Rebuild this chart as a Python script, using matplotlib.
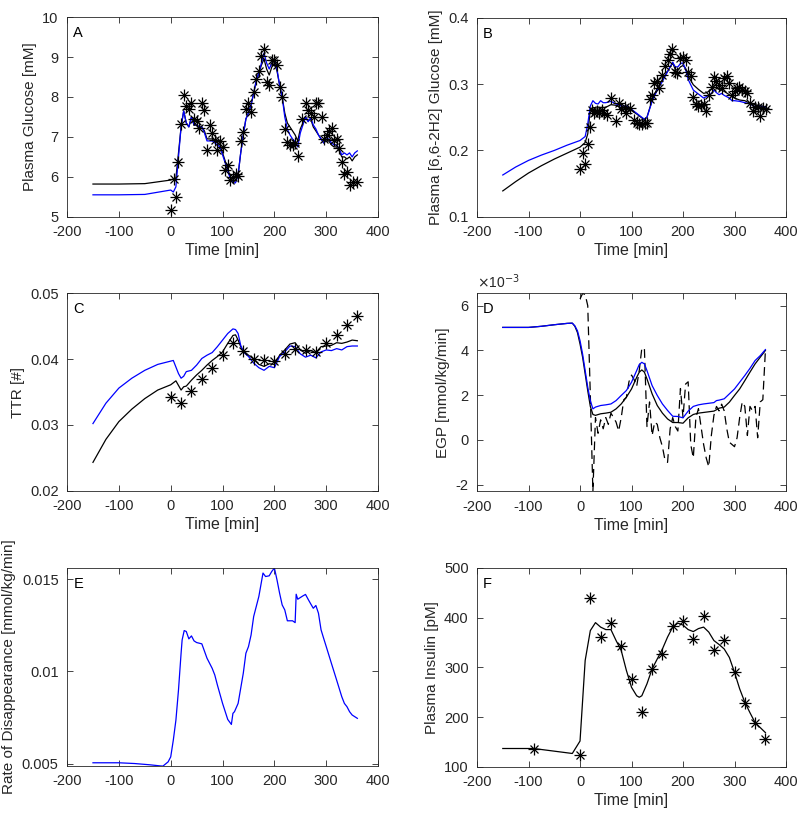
import numpy as np
import matplotlib
matplotlib.use("Agg")
import matplotlib.pyplot as plt
from matplotlib.ticker import FuncFormatter

plt.rcParams['font.family'] = ['Liberation Sans', 'DejaVu Sans']

# ---- panel A: plasma glucose
tA_obs = [0, 6, 10, 15, 20, 25, 30, 35, 40, 45, 50, 55, 60, 65, 70, 75, 80, 85, 90, 95,
          100, 105, 110, 115, 120, 125, 130, 135, 140, 145, 150, 155, 160, 165, 170, 175,
          180, 185, 190, 195, 200, 205, 210, 215, 220, 225, 230, 235, 240, 245, 254, 260,
          265, 270, 276, 281, 285, 291, 296, 301, 306, 311, 315, 320, 325, 330, 335, 341,
          345, 351, 359]
gluc_obs = [5.16, 5.95, 5.5, 6.38, 7.33, 8.06, 7.78, 7.69, 7.84, 7.46, 7.41, 7.22, 7.84, 7.68,
            6.68, 7.29, 7.10, 6.93, 6.68, 6.91, 6.75, 6.17, 6.30, 5.92, 6.0, 6.07, 6.02, 6.89,
            7.13, 7.69, 7.84, 7.63, 8.13, 8.45, 8.66, 9.02, 9.21, 8.37, 8.30, 8.92, 8.92, 8.79,
            8.24, 8.01, 7.20, 6.88, 6.81, 6.81, 6.85, 6.51, 7.46, 7.84, 7.68, 7.61, 7.51, 7.84,
            7.84, 7.51, 6.95, 7.06, 7.14, 7.23, 6.93, 6.95, 6.72, 6.38, 6.07, 6.11, 5.79, 5.88,
            5.88]
tA_mod = [-150, -100, -50, 0, 5, 10, 15, 20, 25, 30, 35, 40, 45, 50, 55, 60, 65, 70, 75, 80,
          85, 90, 95, 100, 105, 110, 115, 120, 125, 130, 135, 140, 145, 150, 155, 160, 165,
          170, 175, 180, 185, 190, 195, 200, 205, 210, 215, 220, 225, 230, 235, 240, 245, 250,
          255, 260, 265, 270, 275, 280, 285, 290, 295, 300, 305, 310, 315, 320, 325, 330, 335,
          340, 345, 350, 355, 360]
gluc_blue = [5.55, 5.55, 5.56, 5.67, 5.62, 5.75, 6.5, 7.25, 7.65, 7.35, 7.25, 7.5, 7.3, 7.3,
             7.25, 7.25, 7.1, 6.9, 6.9, 6.9, 6.85, 6.8, 6.75, 6.55, 6.35, 6.15, 5.95, 5.85,
             5.85, 6.05, 6.6, 7.05, 7.45, 7.6, 7.8, 8.1, 8.4, 8.6, 8.85, 9.1, 8.85, 8.7, 8.85,
             8.95, 8.7, 8.3, 8.0, 7.5, 7.2, 7.05, 6.95, 6.88, 6.75, 7.1, 7.3, 7.5, 7.38, 7.48,
             7.3, 7.2, 7.05, 6.95, 6.85, 6.95, 6.95, 6.85, 6.8, 6.8, 6.7, 6.55, 6.6, 6.55, 6.6,
             6.5, 6.6, 6.65]
gluc_black = [5.82, 5.82, 5.83, 5.92, 5.95, 5.97, 6.6, 7.25, 7.65, 7.35, 7.25, 7.5, 7.3, 7.3,
              7.25, 7.25, 7.15, 6.95, 6.95, 6.95, 6.9, 6.85, 6.8, 6.6, 6.4, 6.2, 6.0, 5.88,
              5.9, 6.05, 6.6, 7.05, 7.45, 7.6, 7.8, 8.1, 8.4, 8.6, 8.8, 8.95, 8.7, 8.55, 8.75,
              8.85, 8.65, 8.3, 8.0, 7.6, 7.35, 7.25, 7.15, 7.05, 6.9, 7.2, 7.35, 7.5, 7.4, 7.45,
              7.25, 7.15, 7.05, 6.95, 6.85, 6.9, 6.9, 6.8, 6.75, 6.75, 6.65, 6.5, 6.5, 6.45,
              6.5, 6.4, 6.5, 6.55]

# ---- panel B: labelled glucose
tB_obs = [0, 5, 10, 15, 20, 24, 27, 32, 37, 42, 47, 53, 60, 70, 75, 80, 87, 90, 97, 104, 110,
          115, 120, 126, 130, 135, 139, 144, 149, 154, 160, 165, 170, 175, 179, 185, 189, 195,
          200, 205, 210, 215, 220, 225, 230, 235, 240, 245, 250, 256, 260, 265, 270, 275, 280,
          285, 290, 295, 300, 304, 309, 315, 320, 324, 330, 335, 340, 345, 350, 355, 361]
lab_obs = [0.172, 0.196, 0.180, 0.209, 0.236, 0.261, 0.257, 0.259, 0.257, 0.261, 0.257, 0.254,
           0.279, 0.244, 0.272, 0.262, 0.266, 0.256, 0.264, 0.246, 0.242, 0.240, 0.240, 0.241,
           0.241, 0.277, 0.284, 0.302, 0.304, 0.294, 0.314, 0.327, 0.336, 0.346, 0.353, 0.318,
           0.317, 0.339, 0.341, 0.337, 0.319, 0.312, 0.281, 0.270, 0.267, 0.268, 0.270, 0.260,
           0.284, 0.295, 0.311, 0.304, 0.299, 0.294, 0.309, 0.312, 0.302, 0.284, 0.289, 0.294,
           0.296, 0.291, 0.289, 0.287, 0.271, 0.260, 0.266, 0.265, 0.252, 0.264, 0.262]
tB_mod = [-150, -125, -100, -75, -50, -25, 0, 10, 15, 20, 25, 30, 35, 40, 45, 50, 60, 70, 80,
          90, 100, 110, 120, 125, 130, 140, 150, 160, 170, 180, 185, 190, 195, 200, 205, 210,
          220, 230, 240, 245, 250, 255, 260, 265, 270, 275, 280, 290, 295, 300, 310, 320, 330,
          340, 350, 360]
lab_blue = [0.163, 0.175, 0.185, 0.193, 0.200, 0.208, 0.215, 0.221, 0.240, 0.267, 0.275, 0.271,
            0.270, 0.275, 0.272, 0.272, 0.274, 0.270, 0.267, 0.267, 0.262, 0.256, 0.250, 0.247,
            0.250, 0.274, 0.291, 0.304, 0.319, 0.333, 0.326, 0.326, 0.331, 0.332, 0.322, 0.307,
            0.291, 0.285, 0.279, 0.281, 0.283, 0.286, 0.291, 0.287, 0.284, 0.286, 0.283, 0.279,
            0.275, 0.275, 0.274, 0.272, 0.270, 0.266, 0.267, 0.265]
lab_black = [0.139, 0.153, 0.166, 0.177, 0.187, 0.196, 0.205, 0.212, 0.225, 0.262, 0.265,
             0.264, 0.264, 0.265, 0.265, 0.265, 0.269, 0.268, 0.264, 0.264, 0.260, 0.255, 0.249,
             0.247, 0.250, 0.276, 0.294, 0.307, 0.319, 0.332, 0.322, 0.321, 0.326, 0.328, 0.324,
             0.312, 0.299, 0.292, 0.286, 0.287, 0.289, 0.292, 0.296, 0.294, 0.292, 0.291, 0.289,
             0.284, 0.281, 0.279, 0.276, 0.275, 0.271, 0.269, 0.267, 0.266]

# ---- panel C: TTR
tC_obs = [0, 20, 40, 60, 80, 100, 120, 140, 160, 180, 200, 220, 240, 260, 280, 300, 320, 340, 360]
ttr_obs = [0.0342, 0.0334, 0.0352, 0.0370, 0.0387, 0.0406, 0.0424, 0.0412, 0.0400, 0.0398,
           0.0397, 0.0408, 0.0416, 0.0414, 0.0411, 0.0424, 0.0436, 0.0452, 0.0466]
tC_mod = [-150, -125, -100, -75, -50, -25, 0, 5, 10, 15, 20, 25, 30, 40, 50, 60, 70, 80, 90,
          100, 110, 120, 125, 130, 135, 140, 150, 160, 170, 180, 190, 200, 210, 220, 230, 240,
          250, 260, 270, 280, 290, 300, 310, 320, 330, 340, 350, 360]
ttr_blue = [0.0302, 0.0333, 0.0356, 0.0371, 0.0383, 0.0392, 0.0397, 0.0398, 0.0388, 0.0378,
            0.0371, 0.0374, 0.0381, 0.0383, 0.0391, 0.0401, 0.0406, 0.0410, 0.0419, 0.0429,
            0.0439, 0.0446, 0.0445, 0.0439, 0.0421, 0.0411, 0.0404, 0.0394, 0.0387, 0.0383,
            0.0389, 0.0387, 0.0404, 0.0411, 0.0420, 0.0419, 0.0408, 0.0403, 0.0406, 0.0402,
            0.0411, 0.0414, 0.0413, 0.0416, 0.0414, 0.0419, 0.0420, 0.0420]
ttr_black = [0.0243, 0.0278, 0.0305, 0.0324, 0.0340, 0.0353, 0.0361, 0.0364, 0.0367, 0.0360,
             0.0353, 0.0358, 0.0359, 0.0368, 0.0376, 0.0383, 0.0391, 0.0398, 0.0404, 0.0411,
             0.0424, 0.0436, 0.0437, 0.0429, 0.0419, 0.0413, 0.0406, 0.0400, 0.0392, 0.0389,
             0.0393, 0.0392, 0.0406, 0.0414, 0.0423, 0.0425, 0.0414, 0.0409, 0.0413, 0.0410,
             0.0419, 0.0420, 0.0421, 0.0425, 0.0424, 0.0426, 0.0429, 0.0428]

# ---- panel D: EGP
tD_mod = [-150, -100, -75, -50, -25, -15, -10, -5, 0, 5, 10, 15, 20, 25, 30, 40, 50, 60, 70,
          80, 90, 100, 110, 115, 120, 125, 130, 140, 150, 160, 170, 180, 190, 200, 210, 220,
          230, 240, 250, 260, 265, 270, 280, 290, 300, 310, 320, 330, 340, 350, 360]
egp_blue = [5.03, 5.03, 5.08, 5.15, 5.21, 5.22, 5.10, 4.88, 4.44, 3.84, 3.10, 2.36, 1.76, 1.39,
            1.47, 1.54, 1.57, 1.61, 1.76, 1.99, 2.21, 2.58, 3.10, 3.37, 3.47, 3.40, 3.10, 2.43,
            1.99, 1.61, 1.32, 1.06, 1.05, 0.99, 1.29, 1.50, 1.57, 1.61, 1.64, 1.67, 1.76, 1.78,
            1.84, 2.06, 2.28, 2.58, 2.88, 3.20, 3.55, 3.77, 4.04]
egp_black = [5.03, 5.03, 5.08, 5.15, 5.21, 5.22, 5.08, 4.80, 4.29, 3.70, 2.95, 2.20, 1.50,
             1.14, 1.10, 1.17, 1.20, 1.24, 1.39, 1.61, 1.91, 2.28, 2.80, 3.03, 3.13, 3.03, 2.73,
             2.06, 1.54, 1.20, 0.94, 0.78, 0.78, 0.75, 0.99, 1.14, 1.20, 1.23, 1.26, 1.29,
             1.35, 1.42, 1.47, 1.69, 1.99, 2.28, 2.65, 3.03, 3.40, 3.70, 4.00]
tD_dash = [0, 5, 10, 15, 20, 25, 30, 35, 40, 45, 50, 55, 60, 65, 70, 75, 80, 85, 90, 95, 100,
           105, 110, 115, 120, 125, 130, 135, 140, 145, 150, 155, 160, 165, 170, 175, 180, 185,
           190, 195, 200, 205, 210, 215, 220, 225, 230, 235, 240, 245, 250, 255, 260, 265, 270,
           275, 280, 285, 290, 295, 300, 305, 310, 315, 320, 325, 330, 335, 340, 345, 350, 355,
           360]
egp_dash = [6.30, 6.55, 6.50, 6.00, 2.00, -2.30, 1.00, 0.30, 0.90, 0.50, 1.00, 0.70, 1.20,
            1.00, 0.80, 0.40, 1.00, 1.80, 1.90, 2.60, 2.90, 2.70, 2.40, 3.10, 4.10, 4.10, 0.60,
            1.70, 0.20, 0.80, 0.70, 0.10, -0.30, -0.90, -1.00, 0.50, 1.00, 0.60, 0.40, 2.30,
            1.00, 2.50, 2.60, -0.20, -0.80, 1.00, 1.40, 0.60, -0.20, -0.80, -1.20, 0.20, 1.10,
            1.50, 1.30, 1.60, 1.30, 0.50, -0.10, -0.20, -0.30, 0.10, 1.00, 1.70, 1.50, 0.20,
            1.50, 1.30, 1.50, 0.10, 1.70, 1.80, 4.00]

# ---- panel E: rate of disappearance
tE = [-150, -100, -70, -40, -20, -15, -5, 0, 5, 10, 15, 20, 22, 26, 30, 35, 40, 45, 50, 60, 70,
      80, 85, 90, 100, 110, 117, 120, 123, 130, 140, 145, 150, 155, 160, 170, 178, 183, 190,
      195, 200, 205, 210, 215, 220, 225, 235, 240, 242, 245, 255, 260, 265, 270, 275, 280,
      285, 290, 295, 300, 310, 320, 330, 335, 340, 345, 350, 355, 360]
rd = [0.00504, 0.00504, 0.00500, 0.00493, 0.00487, 0.00486, 0.00509, 0.00536, 0.00627, 0.00735,
      0.00899, 0.01098, 0.01170, 0.01221, 0.01216, 0.01176, 0.01192, 0.01165, 0.01156, 0.01149,
      0.01071, 0.01016, 0.00980, 0.00926, 0.00826, 0.00739, 0.00712, 0.00772, 0.00781, 0.00826,
      0.00990, 0.01098, 0.01134, 0.01197, 0.01297, 0.01406, 0.01533, 0.01514, 0.01518, 0.01542,
      0.01560, 0.01496, 0.01424, 0.01360, 0.01333, 0.01274, 0.01274, 0.01264, 0.01418, 0.01391,
      0.01409, 0.01417, 0.01391, 0.01366, 0.01342, 0.01357, 0.01315, 0.01225, 0.01179, 0.01134,
      0.01043, 0.00953, 0.00862, 0.00826, 0.00808, 0.00781, 0.00763, 0.00754, 0.00745]

# ---- panel F: insulin
tF_obs = [-90, 0, 20, 40, 60, 80, 100, 120, 140, 160, 180, 200, 220, 240, 260, 280, 300, 320, 340, 360]
ins_obs = [137, 123, 440, 361, 389, 343, 276, 211, 296, 327, 383, 393, 358, 403, 335, 356, 290,
           228, 189, 156]
tF_mod = [-150, -90, -15, 0, 10, 20, 30, 40, 50, 60, 70, 80, 90, 100, 110, 115, 120, 130, 140,
          150, 160, 170, 180, 190, 200, 210, 220, 230, 240, 250, 260, 270, 280, 290, 300, 310,
          320, 330, 340, 350, 360]
ins_mod = [137, 137, 127, 152, 314, 374, 390, 381, 376, 376, 354, 334, 294, 260, 243, 240, 243,
           267, 297, 317, 337, 361, 381, 389, 385, 376, 372, 378, 381, 371, 354, 346, 337, 320,
           290, 257, 230, 209, 189, 179, 169]

AX_COL = '#262626'
TICK_FS = 10.5
LAB_FS = 11


def style(ax, letter, ylabel, xlabel=True):
    ax.set_xlim(-200, 400)
    ax.set_xticks([-200, -100, 0, 100, 200, 300, 400])
    ax.tick_params(direction='in', top=True, right=True, length=4, width=0.6,
                   color=AX_COL, labelcolor=AX_COL, labelsize=TICK_FS)
    ax.tick_params(axis='x', pad=6)
    ax.tick_params(axis='y', pad=6)
    for s in ax.spines.values():
        s.set_color(AX_COL)
        s.set_linewidth(0.6)
    ax.xaxis.set_major_formatter(FuncFormatter(lambda v, p: f"{v:g}"))
    ax.set_ylabel(ylabel, fontsize=LAB_FS, color=AX_COL, labelpad=4)
    if xlabel:
        ax.set_xlabel("Time [min]", fontsize=LAB_FS + 0.5, color=AX_COL, labelpad=3)
    ax.text(0.02, 0.955, letter, transform=ax.transAxes, fontsize=10.5, va='top', ha='left',
            color='black')


def stars(ax, x, y):
    ax.plot(x, y, ls='none', marker='+', ms=8, mew=0.9, color='black')
    ax.plot(x, y, ls='none', marker='x', ms=5.6, mew=0.9, color='black')


fig = plt.figure(figsize=(8, 8.15), dpi=100)
axA = fig.add_axes([0.0838, 0.734, 0.3888, 0.245])
axB = fig.add_axes([0.5963, 0.734, 0.3862, 0.2442])
axC = fig.add_axes([0.0838, 0.398, 0.3888, 0.242])
axD = fig.add_axes([0.5963, 0.397, 0.3862, 0.243])
axE = fig.add_axes([0.0838, 0.060, 0.3888, 0.243])
axF = fig.add_axes([0.5963, 0.059, 0.3862, 0.2442])

lw = 0.9
fmt = FuncFormatter(lambda v, p: f"{v:g}")

# A
axA.plot(tA_mod, gluc_black, color='black', lw=lw)
axA.plot(tA_mod, gluc_blue, color='blue', lw=lw)
stars(axA, tA_obs, gluc_obs)
axA.set_ylim(5, 10)
axA.set_yticks([5, 6, 7, 8, 9, 10])
axA.yaxis.set_major_formatter(fmt)
style(axA, "A", "Plasma Glucose [mM]")

# B
axB.plot(tB_mod, lab_black, color='black', lw=lw)
axB.plot(tB_mod, lab_blue, color='blue', lw=lw)
stars(axB, tB_obs, lab_obs)
axB.set_ylim(0.1, 0.4)
axB.set_yticks([0.1, 0.2, 0.3, 0.4])
axB.yaxis.set_major_formatter(fmt)
style(axB, "B", "Plasma [6,6-2H2] Glucose [mM]")

# C
axC.plot(tC_mod, ttr_black, color='black', lw=lw)
axC.plot(tC_mod, ttr_blue, color='blue', lw=lw)
stars(axC, tC_obs, ttr_obs)
axC.set_ylim(0.02, 0.05)
axC.set_yticks([0.02, 0.03, 0.04, 0.05])
axC.yaxis.set_major_formatter(fmt)
style(axC, "C", "TTR [#]")

# D
sc = 1e-3
axD.plot(tD_dash, np.array(egp_dash) * sc, color='black', lw=lw, ls=(0, (7, 4)))
axD.plot(tD_mod, np.array(egp_black) * sc, color='black', lw=lw)
axD.plot(tD_mod, np.array(egp_blue) * sc, color='blue', lw=lw)
axD.set_ylim(min(egp_dash) * sc, max(egp_dash) * sc)
axD.set_yticks(np.array([-2, 0, 2, 4, 6]) * sc)
axD.yaxis.set_major_formatter(FuncFormatter(lambda v, p: f"{v / sc:g}"))
axD.text(0.0, 1.012, r"$\times$10$^{-3}$", transform=axD.transAxes, fontsize=10,
         ha='left', va='bottom', color=AX_COL)
style(axD, "D", "EGP [mmol/kg/min]")

# E
axE.plot(tE, rd, color='blue', lw=lw)
axE.set_ylim(min(rd), max(rd))
axE.set_yticks([0.005, 0.01, 0.015])
axE.yaxis.set_major_formatter(fmt)
style(axE, "E", "Rate of Disappearance [mmol/kg/min]", xlabel=False)

# F
axF.plot(tF_mod, ins_mod, color='black', lw=lw)
stars(axF, tF_obs, ins_obs)
axF.set_ylim(100, 500)
axF.set_yticks([100, 200, 300, 400, 500])
axF.yaxis.set_major_formatter(fmt)
style(axF, "F", "Plasma Insulin [pM]")

fig.savefig("out.png", dpi=100)
